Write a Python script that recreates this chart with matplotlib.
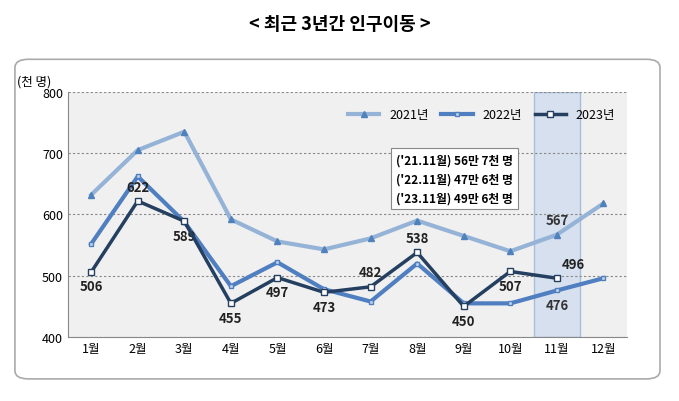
import matplotlib
matplotlib.use("Agg")
import matplotlib.pyplot as plt
from matplotlib.patches import FancyBboxPatch, Rectangle

plt.rcParams["font.family"] = ["Noto Sans CJK KR", "Noto Sans CJK JP", "Noto Sans CJK SC", "DejaVu Sans"]

months = ["1월","2월","3월","4월","5월","6월","7월","8월","9월","10월","11월","12월"]
y2021 = [632, 705, 735, 592, 556, 543, 561, 590, 565, 540, 567, 618]
y2022 = [552, 662, 588, 483, 522, 478, 458, 520, 455, 455, 476, 496]
y2023 = [506, 622, 589, 455, 497, 473, 482, 538, 450, 507, 496]
labels2023 = [506, 622, 589, 455, 497, 473, 482, 538, 450, 507, 496]
yticks = [400, 500, 600, 700, 800]

fig = plt.figure(figsize=(6.79, 4.02), dpi=100)
fig.text(0.5, 0.94, "< 최근 3년간 인구이동 >", ha="center", va="center", fontsize=13, fontweight="bold")
frame = FancyBboxPatch((0.022, 0.055), 0.95, 0.795, boxstyle="round,pad=0,rounding_size=0.02",
                       transform=fig.transFigure, fc="white", ec="#aaaaaa", lw=1.2, zorder=-1)
fig.patches.append(frame)

ax = fig.add_axes([0.1, 0.159, 0.823, 0.61], zorder=1)
ax.set_facecolor("#f0f0f0")
x = list(range(12))
ax.add_patch(Rectangle((9.5, 400), 1, 400, fc="#d6e0ee", ec="#a8bedd", lw=1, zorder=0.5))
ax.plot(x, y2021, color="#95b3d7", lw=3, marker="^", ms=5, mfc="#4f81bd", mec="#4f81bd", label="2021년", zorder=2)
ax.plot(x, y2022, color="#4f7fc0", lw=3, marker="s", ms=3, mfc="#c5d5ea", mec="#4f7fc0", label="2022년", zorder=3)
ax.plot(x[:11], y2023, color="#243f60", lw=2.5, marker="s", ms=4, mfc="white", mec="#243f60", label="2023년", zorder=4)

offs = [-1,1,-1,-1,-1,-1,1,1,-1,-1,1]
for i, v in enumerate(labels2023):
    if i == 10:
        ax.text(i + 0.1, v + 12, str(v), ha="left", va="bottom", fontsize=9.5, fontweight="bold", color="#222222")
        continue
    dy = 12 if offs[i] > 0 else -12
    ax.text(i, v + dy, str(v), ha="center", va="bottom" if dy > 0 else "top", fontsize=9.5, fontweight="bold", color="#222222")
ax.text(10, 567 + 12, "567", ha="center", va="bottom", fontsize=9.5, fontweight="bold", color="#333333")
ax.text(10, 476 - 12, "476", ha="center", va="top", fontsize=9.5, fontweight="bold", color="#333333")

ax.set_xlim(-0.5, 11.5)
ax.set_ylim(400, 800)
ax.set_yticks(yticks)
ax.set_xticks(x)
ax.set_xticklabels(months, fontsize=9)
ax.tick_params(axis="y", labelsize=9, length=0)
ax.tick_params(axis="x", length=0)
ax.grid(axis="y", ls=(0, (2, 2)), color="#888888", lw=0.8)
for s in ["top", "right"]:
    ax.spines[s].set_visible(False)
ax.spines["left"].set_color("#888888")
ax.spines["bottom"].set_color("#888888")
ax.text(-0.06, 1.03, "(천 명)", transform=ax.transAxes, fontsize=9, ha="center")
ax.legend(loc="upper right", bbox_to_anchor=(1.0, 0.98), ncol=3, frameon=False, fontsize=9,
          handlelength=2.5, columnspacing=1.0)
ax.text(6.55, 700, "('21.11월) 56만 7천 명\n('22.11월) 47만 6천 명\n('23.11월) 49만 6천 명",
        fontsize=8.5, fontweight="bold", va="top", linespacing=1.6,
        bbox=dict(boxstyle="square,pad=0.4", fc="white", ec="#888888", lw=0.8), zorder=5)
fig.savefig("out.png", dpi=100)
